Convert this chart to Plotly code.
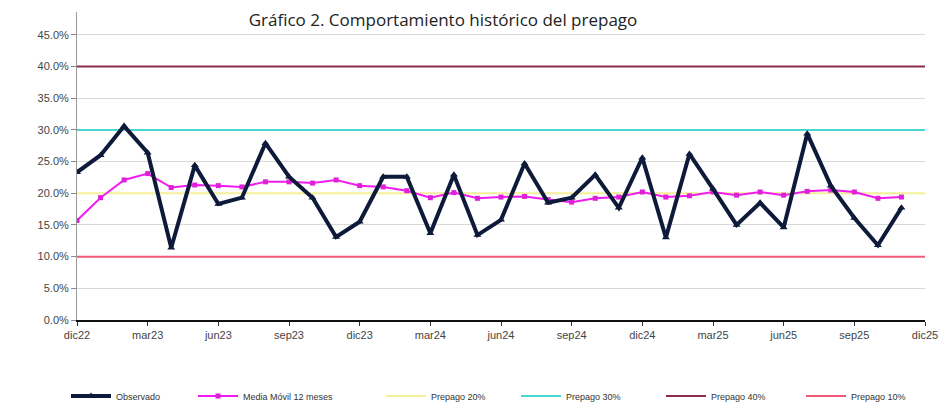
import plotly.graph_objects as go

# Months from dic22 to dic25 (37 months)
months = ["dic22",
          "ene23", "feb23", "mar23", "abr23", "may23", "jun23", "jul23", "ago23", "sep23", "oct23", "nov23", "dic23",
          "ene24", "feb24", "mar24", "abr24", "may24", "jun24", "jul24", "ago24", "sep24", "oct24", "nov24", "dic24",
          "ene25", "feb25", "mar25", "abr25", "may25", "jun25", "jul25", "ago25", "sep25", "oct25", "nov25", "dic25"]

tick_labels = ["dic22", "mar23", "jun23", "sep23", "dic23", "mar24", "jun24",
               "sep24", "dic24", "mar25", "jun25", "sep25", "dic25"]

observado = [23.3, 26.0, 30.6, 26.4, 11.4, 24.4, 18.3, 19.3, 27.9, 22.6, 19.3, 13.1,
             15.5, 22.6, 22.6, 13.7, 22.9, 13.4, 15.8, 24.7, 18.5, 19.3, 22.9, 17.7,
             25.6, 13.0, 26.2, 20.7, 15.0, 18.5, 14.6, 29.4, 21.2, 16.1, 11.8, 17.7]

media_movil = [15.7, 19.3, 22.1, 23.1, 20.9, 21.3, 21.2, 21.0, 21.8, 21.8, 21.6, 22.1,
               21.2, 21.0, 20.4, 19.3, 20.1, 19.2, 19.4, 19.5, 19.0, 18.6, 19.2, 19.4,
               20.2, 19.4, 19.6, 20.2, 19.7, 20.2, 19.7, 20.3, 20.5, 20.2, 19.2, 19.4]

umbrales = [("Prepago 20%", 20.0, "#f4f09a"),
            ("Prepago 30%", 30.0, "#49d6d2"),
            ("Prepago 40%", 40.0, "#8e2a4a"),
            ("Prepago 10%", 10.0, "#ef5a78")]

n_obs = len(observado)

W, H = 948, 405
OFF = 8  # page body margin offset

# legend entry left edges (screen px) in order: Observado, Media, 20, 30, 40, 10
legend_x = [66, 193, 381, 516, 661, 801]
legend_ids = ["legend", "legend2", "legend3", "legend4", "legend5", "legend6"]

fig = go.Figure()

for i, (name, val, col) in enumerate(umbrales):
    fig.add_trace(go.Scatter(
        x=months, y=[val / 100] * len(months), name=name,
        mode="lines", line=dict(color=col, width=2), legend=legend_ids[2 + i],
    ))

fig.add_trace(go.Scatter(
    x=months[:n_obs], y=[v / 100 for v in media_movil], name="Media Móvil 12 meses",
    mode="lines+markers",
    line=dict(color="#f01cf0", width=2, simplify=False),
    marker=dict(symbol="square", size=5, color="#e020d8"),
    legend=legend_ids[1],
))

fig.add_trace(go.Scatter(
    x=months[:n_obs], y=[v / 100 for v in observado], name="Observado",
    mode="lines+markers",
    line=dict(color="#0d1a3a", width=4, simplify=False),
    marker=dict(symbol="triangle-up", size=7, color="#0d1a3a"),
    legend=legend_ids[0],
))

legends = {}
for lid, lx in zip(legend_ids, legend_x):
    legends[lid] = dict(orientation="h", xref="container", x=(lx - OFF) / W, xanchor="left",
                        yref="container", y=1 - (396 - OFF) / H, yanchor="middle",
                        font=dict(size=9, color="#333"), itemwidth=40,
                        bgcolor="rgba(0,0,0,0)")

fig.update_layout(
    width=W, height=H,
    margin=dict(l=77 - OFF, r=W - (925 - OFF), t=12 - OFF, b=H - (320 - OFF), autoexpand=False),
    paper_bgcolor="white", plot_bgcolor="white",
    font=dict(family="Liberation Sans, Arial, sans-serif", size=11, color="#444"),
    showlegend=True,
    title=dict(text="Gráfico 2. Comportamiento histórico del prepago",
               xref="paper", yref="container",
               x=(443 - 77) / 848, y=1 - (20 - OFF) / H,
               xanchor="center", yanchor="middle",
               font=dict(family="Open Sans, sans-serif", size=17, color="#222")),
    **legends,
)

fig.update_xaxes(
    type="category", categoryorder="array", categoryarray=months,
    range=[0, len(months) - 1], automargin=False,
    tickmode="array", tickvals=tick_labels, ticktext=tick_labels,
    showgrid=False, showline=True, linecolor="#111", linewidth=2,
    ticks="outside", ticklen=4, tickcolor="#333",
    tickfont=dict(size=11, color="#444"),
)

fig.update_yaxes(
    range=[0, 0.486], tickvals=[i * 0.05 for i in range(10)], tickformat=".1%",
    automargin=False,
    showgrid=True, gridcolor="#d9d9d9", gridwidth=1,
    showline=True, linecolor="#999", linewidth=1,
    ticks="outside", ticklen=5, tickcolor="#888",
    zeroline=False, tickfont=dict(size=11, color="#444"),
)

fig.write_html("out.html")
